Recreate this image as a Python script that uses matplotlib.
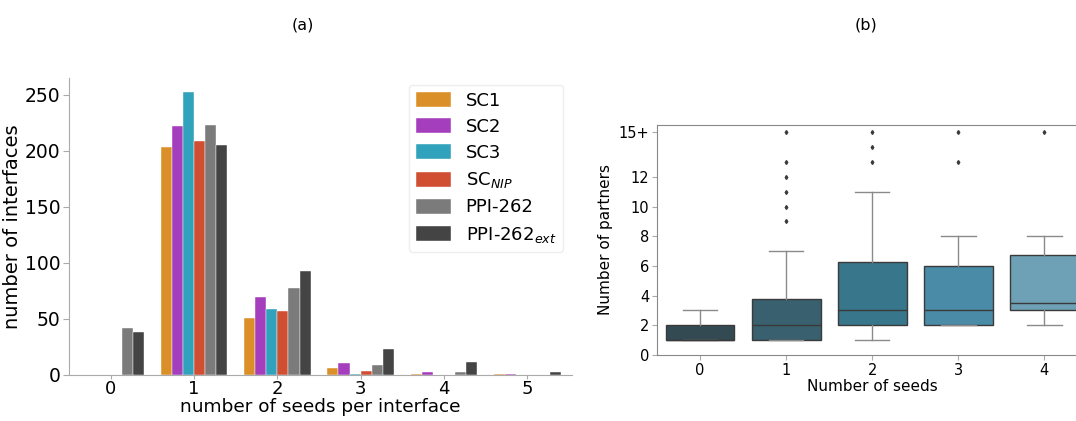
import numpy as np
import matplotlib
matplotlib.use("Agg")
import matplotlib.pyplot as plt

# seeds per interface, per benchmark set
seeds = [0, 1, 2, 3, 4, 5]
sc1 = [0, 203, 51, 6, 1, 1]
sc2 = [0, 222, 69, 10, 2, 1]
sc3 = [0, 252, 59, 1, 0, 0]
sc_nip = [0, 209, 57, 3, 0, 0]
ppi262 = [42, 223, 77, 9, 2, 0]
ppi262_ext = [38, 205, 93, 23, 11, 2]

set_names = ["SC1", "SC2", "SC3", r"SC$_{NIP}$", "PPI-262", r"PPI-262$_{ext}$"]
set_colors = ["#db8f29", "#a53ebc", "#31a2bc", "#d04f33", "#7b7b7b", "#444444"]

# partners per number of seeds (box summary)
box_seeds = [0, 1, 2, 3, 4]
q1 = [1, 1, 2, 2, 3]
med = [1, 2, 3, 3, 3.5]
q3 = [2, 3.75, 6.25, 6, 6.75]
whislo = [1, 1, 1, 2, 2]
whishi = [3, 7, 11, 8, 8]
fliers = [[], [9, 10, 11, 12, 13, 15], [13, 14, 15], [13, 15], [15]]
box_colors = ["#344a53", "#38606e", "#37768b", "#4a8ba7", "#6ea0b6"]

fig = plt.figure(figsize=(10.76, 4.21), dpi=100)
spine_col = "#aaaaaa"

# ---- (a) bar chart
ax1 = fig.add_axes([0.064, 0.11, 0.468, 0.705])
all_sets = [sc1, sc2, sc3, sc_nip, ppi262, ppi262_ext]
w = 0.8 / len(all_sets)
x = np.arange(len(seeds))
for i, vals in enumerate(all_sets):
    ax1.bar(x + (i - 2.5) * w, vals, width=w, color=set_colors[i],
            label=set_names[i], edgecolor="white", linewidth=0.3)
ax1.set_xticks(x)
ax1.set_xticklabels([str(s) for s in seeds])
ax1.set_xlim(-0.5, 5.54)
ax1.set_ylim(0, 265)
ax1.set_yticks([0, 50, 100, 150, 200, 250])
ax1.tick_params(axis="y", labelsize=13.5, color=spine_col, length=4, pad=2)
ax1.tick_params(axis="x", labelsize=13, color=spine_col, length=3, pad=1)
ax1.set_xlabel("number of seeds per interface", fontsize=13.3, labelpad=0)
ax1.set_ylabel("number of interfaces", fontsize=14, labelpad=2)
for s in ["top", "right"]:
    ax1.spines[s].set_visible(False)
for s in ["left", "bottom"]:
    ax1.spines[s].set_color(spine_col)
leg = ax1.legend(fontsize=13, loc="upper right", bbox_to_anchor=(0.982, 0.977),
                 handlelength=1.95, handleheight=0.9, labelspacing=0.45,
                 handletextpad=0.8, borderpad=0.4, borderaxespad=0,
                 framealpha=1)
leg.get_frame().set_edgecolor("#eeeeee")
fig.text(0.281, 0.94, "(a)", ha="center", va="center", fontsize=11.5)

# ---- (b) box plot
ax2 = fig.add_axes([0.6106, 0.157, 0.400, 0.546])
stats = []
for i in range(len(box_seeds)):
    stats.append(dict(q1=q1[i], med=med[i], q3=q3[i], whislo=whislo[i],
                      whishi=whishi[i], fliers=fliers[i]))
bp = ax2.bxp(stats, positions=box_seeds, widths=0.8, patch_artist=True,
             showfliers=True,
             boxprops=dict(edgecolor="#3a3a3a", linewidth=1.0),
             medianprops=dict(color="#3a3a3a", linewidth=1.0),
             whiskerprops=dict(color="#8a8a8a", linewidth=1.0),
             capprops=dict(color="#8a8a8a", linewidth=1.0),
             flierprops=dict(marker="d", markersize=2, markerfacecolor="#3a3a3a",
                             markeredgecolor="#3a3a3a"))
for patch, c in zip(bp["boxes"], box_colors):
    patch.set_facecolor(c)
ax2.set_xlim(-0.5, 4.5)
ax2.set_ylim(0, 15.5)
ax2.set_yticks([0, 2, 4, 6, 8, 10, 12, 15])
ax2.set_yticklabels(["0", "2", "4", "6", "8", "10", "12", "15+"])
ax2.set_xticks(box_seeds)
ax2.set_xticklabels([str(s) for s in box_seeds])
ax2.tick_params(axis="both", labelsize=10.5, color=spine_col, length=3.5,
                pad=2)
ax2.set_xlabel("Number of seeds", fontsize=11, labelpad=1)
ax2.set_ylabel("Number of partners", fontsize=11, labelpad=4)
for s in ax2.spines.values():
    s.set_color("#888888")
fig.text(0.805, 0.94, "(b)", ha="center", va="center", fontsize=11.5)

fig.savefig("out.png", dpi=100)
